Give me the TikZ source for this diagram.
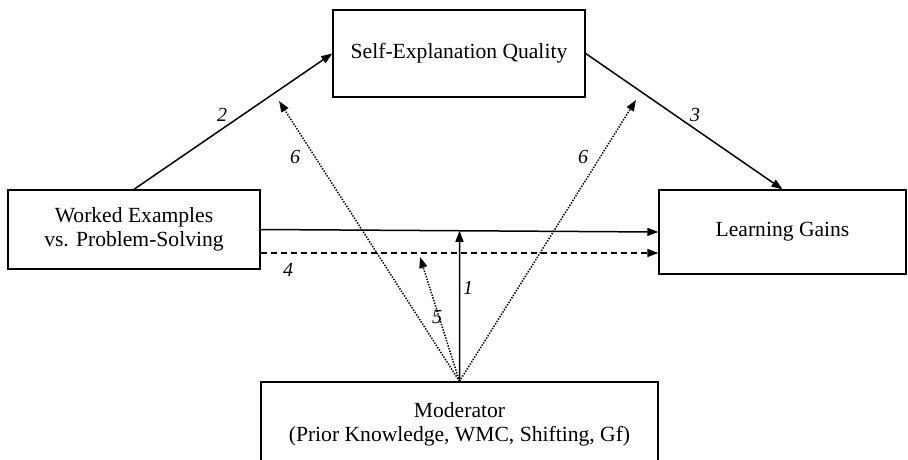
\documentclass[tikz,border=0pt]{standalone}
\usepackage{fontspec}
\setmainfont{Liberation Serif}
\usetikzlibrary{arrows.meta,calc}

\tikzset{
  varbox/.style={draw, line width=1.4pt, align=center, inner sep=0pt,
    font=\fontsize{21.6}{24}\selectfont},
  numlabel/.style={font=\fontsize{20}{20}\selectfont\itshape},
  mainlink/.style={line width=1.5pt, -{Triangle[length=11pt,width=8pt]}},
  modlink/.style={line width=1.5pt, dash pattern=on 1.4pt off 1.4pt, -{Triangle[length=11pt,width=8pt]}}
}

\begin{document}
\begin{tikzpicture}[x=1pt, y=-1pt]
    \clip (0,0) rectangle (908,460);

    % the four variables
    \node[varbox, minimum width=252pt, minimum height=87pt] (seq) at (459,53.5){Self-Explanation Quality};
    \node[varbox, minimum width=252pt, minimum height=79pt] (we) at (134,229.5){Worked Examples\\vs. Problem-Solving};
    \node[varbox, minimum width=247pt, minimum height=84pt] (lg) at (782.5,232){Learning Gains};
    \node[varbox, minimum width=397pt, minimum height=84pt] (mod) at (459.5,424){Moderator\\(Prior Knowledge, WMC, Shifting, Gf)};

        \coordinate (m1) at ($(we.east)!0.5!(lg.west)$);
        \coordinate (t5) at (420,257);
        \coordinate (t6a) at (279,101);
        \coordinate (t6b) at (636,100);

    % paths
    \draw[mainlink](we.north) to (seq.west);
    \draw[mainlink](seq.east) to (lg.north);
    \draw[mainlink](we.east) to (lg.west);
    \draw[mainlink, dash pattern=on 6pt off 4pt]([yshift=-23.5pt]we.east) to ([yshift=-23.5pt]we.east -| lg.west);

    % moderation
    \draw[mainlink](mod.north) to (m1);
    \draw[modlink](mod.north) to (t5);
    \draw[modlink](mod.north) to (t6a);
    \draw[modlink](mod.north) to (t6b);

        \node[numlabel] (n1) at (468,288){1};
        \node[numlabel] (n2) at (222,115){2};
        \node[numlabel] (n3) at (695,115){3};
        \node[numlabel] (n4) at (288,270){4};
        \node[numlabel] (n5) at (437,317){5};
        \node[numlabel] (n6a) at (295,157){6};
        \node[numlabel] (n6b) at (583,157){6};
\end{tikzpicture}
\end{document}
